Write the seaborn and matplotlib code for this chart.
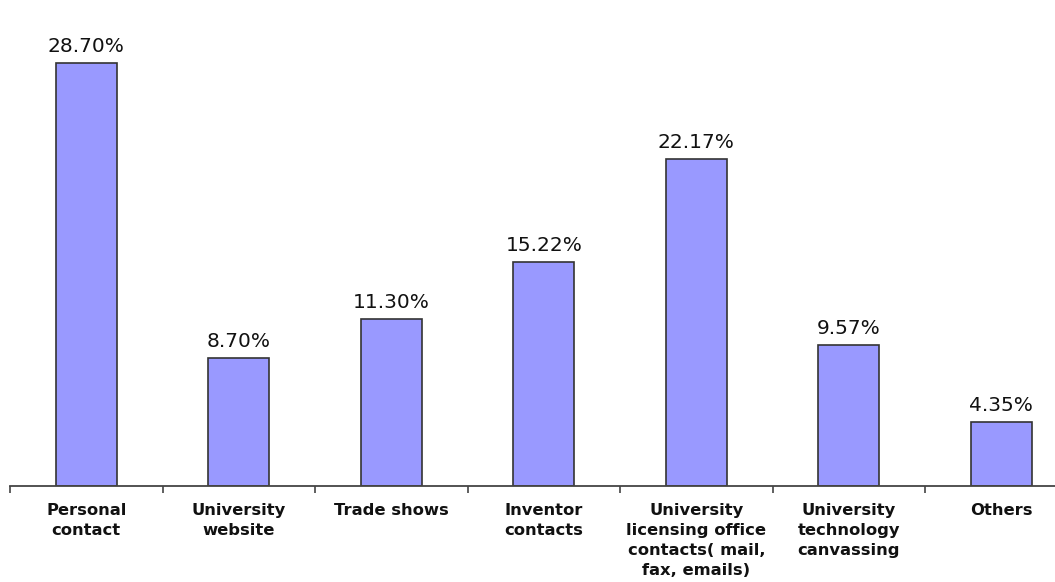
import matplotlib
matplotlib.use("Agg")
import matplotlib.pyplot as plt
import seaborn as sns
import pandas as pd

## data
categories = ["Personal\ncontact", "University\nwebsite", "Trade shows",
              "Inventor\ncontacts",
              "University\nlicensing office\ncontacts( mail,\nfax, emails)",
              "University\ntechnology\ncanvassing", "Others"]
values = [28.70, 8.70, 11.30, 15.22, 22.17, 9.57, 4.35]

df = pd.DataFrame({"source": categories, "share": values})

sns.set_style("white")
plt.rcParams['font.family'] = ['DejaVu Sans']

fig = plt.figure(figsize=(10.55, 5.82), dpi=100)
# axis runs past the right edge in the original
ax = fig.add_axes([10 / 1055, 96 / 582, 1067.5 / 1055, 486 / 582])

sns.barplot(data=df, x="source", y="share", color="#9999ff", saturation=1,
            width=0.4, edgecolor="#333333", linewidth=1.2, ax=ax)

ax.set_xlim(-0.5, len(categories) - 0.5)
ax.set_ylim(0, 32.97)
ax.set_xlabel("")
ax.set_ylabel("")
ax.set_yticks([])

for s in ["left", "top", "right"]:
    ax.spines[s].set_visible(False)
ax.spines["bottom"].set_color("#444444")
ax.spines["bottom"].set_linewidth(1.3)

## labels centred under bars, tick marks on boundaries
ax.set_xticks(range(len(categories)))
ax.set_xticklabels(categories, fontsize=11.8, fontweight="bold",
                   linespacing=1.42, color="#111111")
ax.tick_params(axis="x", which="major", length=0, pad=12.5)
ax.set_xticks([i - 0.5 for i in range(len(categories) + 1)], minor=True)
ax.tick_params(axis="x", which="minor", length=5, width=1.2,
               color="#444444", direction="out", bottom=True)

ax.bar_label(ax.containers[0], labels=[f"{v:.2f}%" for v in values],
             padding=5, fontsize=14.5, color="#111111")

fig.savefig("out.png", dpi=100, facecolor="white")
